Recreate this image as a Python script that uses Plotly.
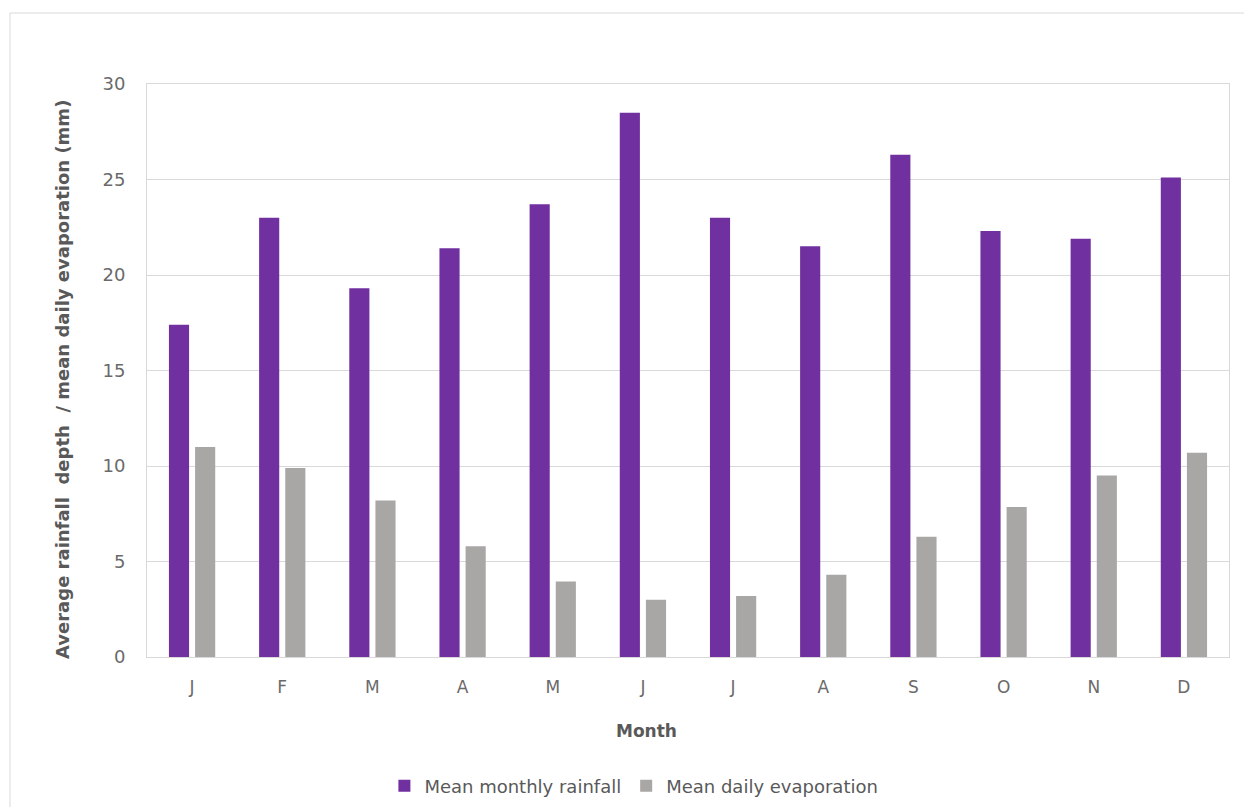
import plotly.graph_objects as go

months = ["J", "F", "M", "A", "M", "J", "J", "A", "S", "O", "N", "D"]
rainfall = [17.4, 23.0, 19.3, 21.4, 23.7, 28.5, 23.0, 21.5, 26.3, 22.3, 21.9, 25.1]
evaporation = [11.0, 9.9, 8.2, 5.8, 3.95, 3.0, 3.2, 4.3, 6.3, 7.85, 9.5, 10.7]
y_ticks = [0, 5, 10, 15, 20, 25, 30]

FONT = "DejaVu Sans, Verdana, sans-serif"
TEXT_GREY = "#6a6a6a"
GRID = "#d9d9d9"

# categories are positioned by index so repeated month letters stay separate
x_pos = list(range(len(months)))

fig = go.Figure()
fig.add_trace(go.Bar(
    x=x_pos, y=rainfall, name="Mean monthly rainfall",
    marker=dict(color="#7030A0", line=dict(width=0)),
))
fig.add_trace(go.Bar(
    x=x_pos, y=evaporation, name="Mean daily evaporation",
    marker=dict(color="#A9A7A5", line=dict(width=0)),
))

fig.update_layout(
    width=1244, height=807,
    margin=dict(l=147, r=15, t=84, b=150, autoexpand=False),
    paper_bgcolor="white", plot_bgcolor="white",
    barmode="group", bargap=0.42, bargroupgap=0.23,
    font=dict(family=FONT, color=TEXT_GREY),
    showlegend=True,
    legend=dict(
        orientation="h", x=0.45, xanchor="center", y=-0.225, yanchor="middle",
        font=dict(family=FONT, size=18, color="#595959"),
        itemwidth=30, traceorder="normal",
    ),
    xaxis=dict(
        tickmode="array", tickvals=x_pos, ticktext=months,
        range=[-0.5, len(months) - 0.5],
        showgrid=False, zeroline=False,
        showline=True, mirror=True, linecolor=GRID, linewidth=1,
        ticks="outside", ticklen=15, tickcolor="rgba(0,0,0,0)",
        tickfont=dict(family=FONT, size=17, color=TEXT_GREY),
    ),
    yaxis=dict(
        range=[0, 30], tickmode="array", tickvals=y_ticks,
        showgrid=True, gridcolor=GRID, gridwidth=1, zeroline=False,
        showline=True, mirror=True, linecolor=GRID, linewidth=1,
        ticks="outside", ticklen=17, tickcolor="rgba(0,0,0,0)",
        tickfont=dict(family=FONT, size=18, color=TEXT_GREY),
    ),
    annotations=[
        dict(
            text="Month", xref="paper", yref="paper",
            x=(646 - 147) / 1082, y=-(731 - 657) / 573,
            xanchor="center", yanchor="middle", showarrow=False,
            font=dict(family=FONT, size=17, color="#595959", weight="bold"),
        ),
        dict(
            text="Average rainfall  depth  / mean daily evaporation (mm)",
            xref="paper", yref="paper",
            x=-(147 - 62) / 1082, y=(657 - 380) / 573,
            xanchor="center", yanchor="middle", textangle=-90, showarrow=False,
            font=dict(family=FONT, size=18, color="#595959", weight="bold"),
        ),
    ],
    shapes=[
        # outer chart frame
        dict(
            type="rect", xref="paper", yref="paper",
            x0=-(147 - 10) / 1082, x1=1.03,
            y0=-0.3, y1=(657 - 13) / 573,
            line=dict(color=GRID, width=1), fillcolor="rgba(0,0,0,0)",
            layer="below",
        ),
    ],
)

fig.write_html("out.html")
